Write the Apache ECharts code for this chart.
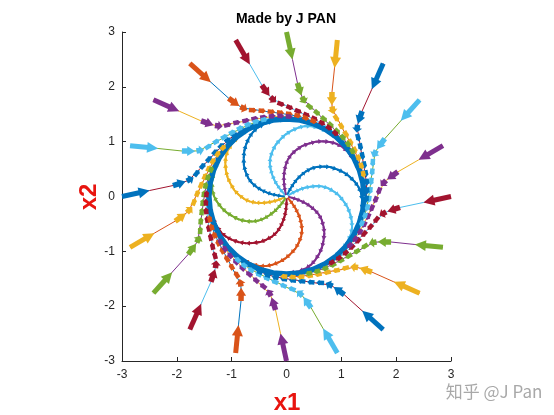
<!DOCTYPE html>
<html><head><meta charset="utf-8">
<script src="https://cdn.jsdelivr.net/npm/echarts@6/dist/echarts.min.js"></script>
<style>html,body{margin:0;padding:0;background:#fff}#c{width:554px;height:415px}</style>
</head><body><div id="c"></div>
<script>
// MATLAB default colours
const palette = {B:'#0072BD',O:'#D95319',Y:'#EDB120',P:'#7E2F8E',G:'#77AC30',C:'#4DBEEE',R:'#A2142F'};
const cycleOrder = ['B','O','Y','P','G','C','R'];

const xTicks = [-3,-2,-1,0,1,2,3];
const yTicks = [-3,-2,-1,0,1,2,3];

// Outer trajectories: start radius and start angles (deg), arrow colours
const outerStartR = 3.0;
const outerAngles = [180,198,216,234,252,270,288,306,324,342,0,18,36,54,72,90,108,126,144,162];
const outerColors = ['B','Y','G','R','O','P','C','B','Y','G','R','P','C','B','Y','G','R','O','P','C'];
// outer path: [r, angle offset deg]
const outerPath = [[3.0,0],[2.5,-2.5],[2.07,-5.6],[1.8,-9.5],[1.72,-14],[1.6,-22],[1.52,-32],[1.48,-45],[1.455,-56],[1.44,-70]];
// outer arrows: [r0, dθ0, r1, dθ1, kind]
const outerArrows = [
  [3.0,0,2.5,-2.5,0],
  [2.08,-5.5,1.86,-8.4,1],
  [1.84,-8.8,1.73,-11.6,1],
  [1.72,-12.5,1.66,-17,2],
  [1.65,-18,1.60,-22.5,2],
  [1.59,-23.5,1.55,-28.5,2],
  [1.545,-29.5,1.52,-34.5,2],
  [1.515,-35.5,1.50,-40.5,2],
  [1.495,-41.5,1.485,-46.5,2],
  [1.48,-47.5,1.47,-52.5,2],
  [1.465,-53.5,1.455,-58.5,2]
];

// Inner spirals: start angles (deg) and colours
const innerAngles = [205,176,134,105,66,33,-12,-48,-88,-122];
const innerColors = ['Y','B','C','P','B','C','P','O','R','G'];
const innerPath = [[0.03,0],[0.1,-1.5],[0.18,-3],[0.27,-5],[0.37,-7.5],[0.47,-10.5],[0.57,-13.5],[0.67,-17],[0.77,-21.5],[0.87,-27],[0.96,-32],[1.05,-38],[1.13,-43],[1.2,-48],[1.27,-53.5],[1.32,-58],[1.36,-63],[1.385,-69],[1.40,-76],[1.41,-85]];

// limit cycle
const cycleR = 1.415;
const cycleAngles = [0,10,20,30,40,50,60,70,80,90,100,110,120,130,140,150,160,170,180,190,200,210,220,230,240,250,260,270,280,290,300,310,320,330,340,350,360];

// arrow styles: [shaft width, head length, head width]
const arrowKinds = [[5,11,11],[5.5,8,10],[4.5,3.5,5.5],[2,5,5]];

function pol(r, deg){ const a = deg*Math.PI/180; return [r*Math.cos(a), r*Math.sin(a)]; }
function prevColor(c){ const i = cycleOrder.indexOf(c); return cycleOrder[(i+6)%7]; }

const series = [];
// thin outer lines
outerAngles.forEach((a,i)=>{
  series.push({type:'line', showSymbol:false, silent:true, z:2,
    lineStyle:{width:1, color:palette[prevColor(outerColors[i])]},
    data: outerPath.map(p=>pol(p[0], a+p[1]))});
});
// inner arm lines
innerAngles.forEach((a,i)=>{
  series.push({type:'line', showSymbol:false, silent:true, z:3,
    lineStyle:{width:2, color:palette[innerColors[i]]},
    data: innerPath.map(p=>pol(p[0], a+p[1]))});
});
// arrows data
const innerArrowData = [];
innerAngles.forEach((a,i)=>{
  for(let k=1;k<innerPath.length-1;k++){
    const p0 = pol(innerPath[k][0], a+innerPath[k][1]);
    const p1 = pol(innerPath[k+1][0], a+innerPath[k+1][1]);
    innerArrowData.push([p0[0],p0[1],p1[0],p1[1],3,innerColors[i]]);
  }
});
const outerArrowData = [];
outerAngles.forEach((a,i)=>{
  outerArrows.forEach(s=>{
    const p0 = pol(s[0], a+s[1]);
    const p1 = pol(s[2], a+s[3]);
    outerArrowData.push([p0[0],p0[1],p1[0],p1[1],s[4],outerColors[i]]);
  });
});

function renderArrow(params, api){
  const p0 = api.coord([api.value(0), api.value(1)]);
  const p1 = api.coord([api.value(2), api.value(3)]);
  const kind = arrowKinds[api.value(4)];
  const color = palette[api.value(5)];
  let dx = p1[0]-p0[0], dy = p1[1]-p0[1];
  const L = Math.sqrt(dx*dx+dy*dy) || 1;
  const ux = dx/L, uy = dy/L, nx = -uy, ny = ux;
  const hl = Math.min(kind[1], L*0.6), hw = kind[2];
  const bx = p1[0]-ux*hl, by = p1[1]-uy*hl;
  return {type:'group', children:[
    {type:'line', shape:{x1:p0[0],y1:p0[1],x2:bx+ux*1.5,y2:by+uy*1.5}, style:{stroke:color,lineWidth:kind[0],lineCap:'butt'}},
    {type:'polygon', shape:{points:[[p1[0],p1[1]],[bx+nx*hw/2,by+ny*hw/2],[bx-nx*hw/2,by-ny*hw/2]]}, style:{fill:color}}
  ]};
}
series.push({type:'custom', z:4, silent:true, renderItem:renderArrow, data:innerArrowData, dimensions:['x0','y0','x1','y1','k','c'], encode:{x:[0,2],y:[1,3]}});
series.push({type:'line', showSymbol:false, silent:true, z:5,
  lineStyle:{width:5.5, color:palette.B},
  data: cycleAngles.map(a=>pol(cycleR,a))});
series.push({type:'custom', z:6, silent:true, renderItem:renderArrow, data:outerArrowData, dimensions:['x0','y0','x1','y1','k','c'], encode:{x:[0,2],y:[1,3]}});

const FONT = "'Liberation Sans', Arial, sans-serif";
const chart = echarts.init(document.getElementById('c'), null, {renderer:'canvas'});
chart.setOption({
  animation:false,
  backgroundColor:'#fff',
  grid:{left:122, top:32, width:329, height:329, containLabel:false},
  xAxis:{type:'value', min:-3, max:3, interval:1,
    axisLine:{onZero:false, lineStyle:{color:'#262626', width:1}},
    axisTick:{inside:true, length:4, lineStyle:{color:'#262626'}},
    axisLabel:{fontSize:12, color:'#262626', margin:8, fontFamily:FONT, formatter:v=>xTicks.includes(v)?String(v):''},
    splitLine:{show:false}},
  yAxis:{type:'value', min:-3, max:3, interval:1,
    axisLine:{onZero:false, lineStyle:{color:'#262626', width:1}},
    axisTick:{inside:true, length:4, lineStyle:{color:'#262626'}},
    axisLabel:{fontSize:12, color:'#262626', margin:7, fontFamily:FONT, formatter:v=>yTicks.includes(v)?String(v):''},
    splitLine:{show:false}},
  graphic:[
    {type:'text', x:286, y:19, style:{text:'Made by J PAN', font:'bold 14px '+FONT, fill:'#000', textAlign:'center', textVerticalAlign:'middle'}},
    {type:'text', x:287, y:403, style:{text:'x1', font:'bold 24px '+FONT, fill:'#e8140f', textAlign:'center', textVerticalAlign:'middle'}},
    {type:'text', x:89, y:197, rotation:Math.PI/2, style:{text:'x2', font:'bold 24px '+FONT, fill:'#e8140f', textAlign:'center', textVerticalAlign:'middle'}},
    {type:'text', x:494, y:392, style:{text:'知乎 @J Pan', font:"17px 'Noto Sans CJK SC', sans-serif", fill:'#a8a8a8', textAlign:'center', textVerticalAlign:'middle'}}
  ],
  series: series
});
</script></body></html>
